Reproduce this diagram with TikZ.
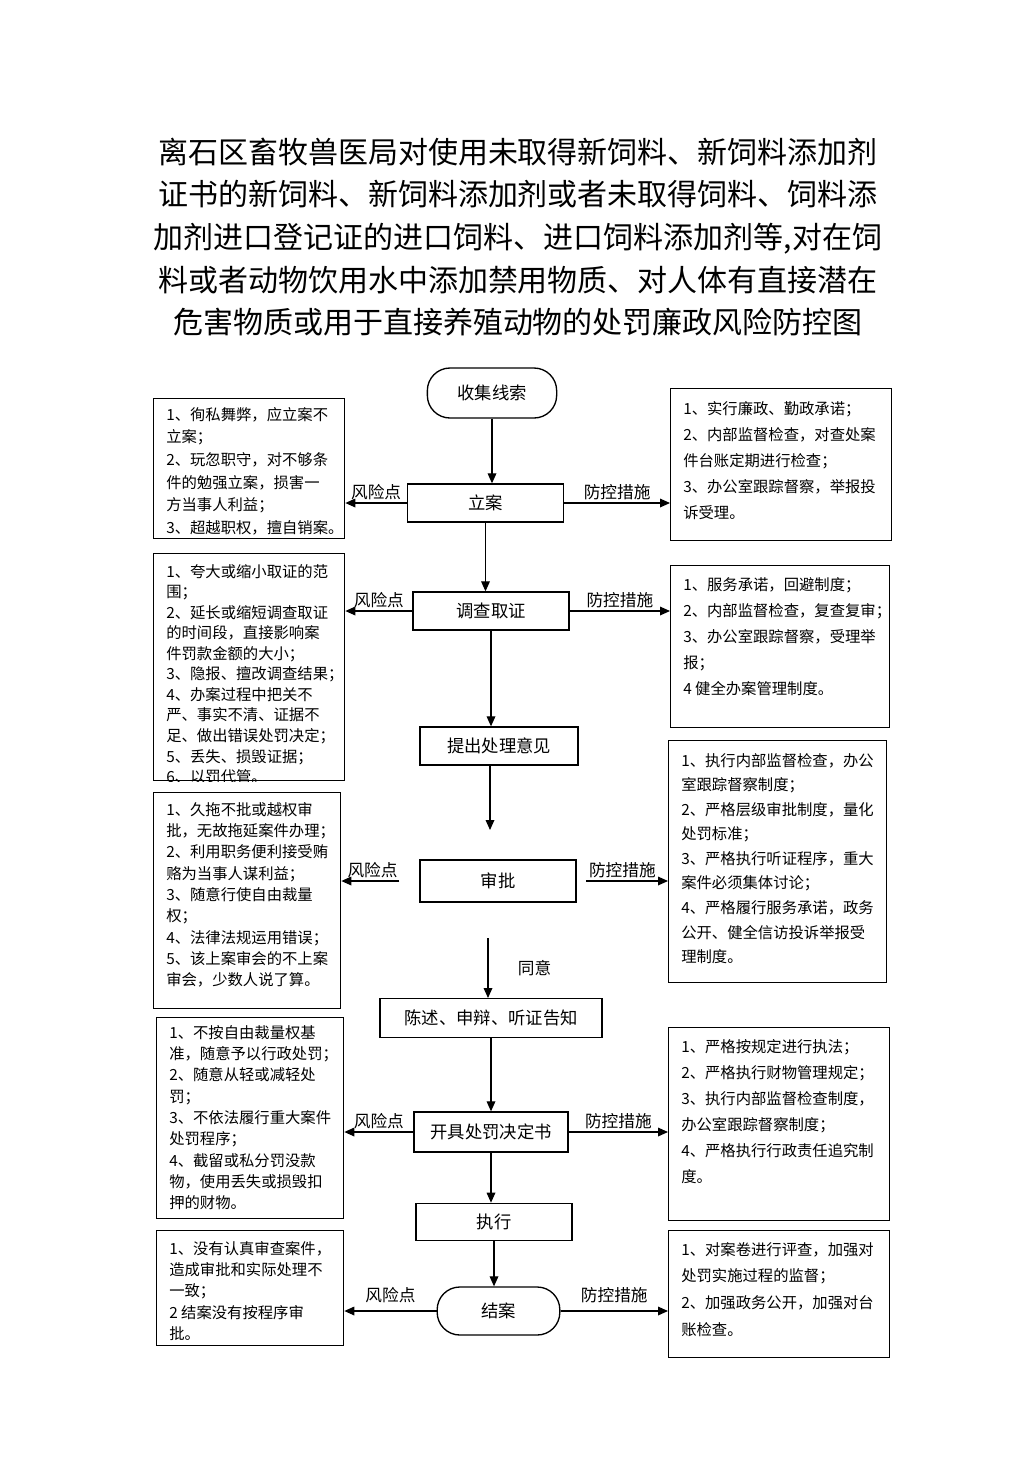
\documentclass[tikz,border=0pt]{standalone}
\usepackage{fontspec}
\setmainfont{Noto Sans CJK SC}
\usetikzlibrary{arrows.meta,positioning,calc}

\begin{document}
\begin{tikzpicture}[x=0.75pt, y=-0.75pt,
    flowstep/.style={rectangle, draw, line width=1pt, minimum width=117pt, minimum height=28.5pt,
                 inner sep=0pt, font=\fontsize{13}{15}\selectfont},
    endstep/.style={flowstep, rounded corners=17pt},
    sidebox/.style={rectangle, draw, line width=1pt, inner sep=0pt, anchor=north west},
    risktext/.style={anchor=north west, align=left, inner sep=0pt, font=\fontsize{11.5}{16}\selectfont},
    ctrltext/.style={anchor=north west, align=left, inner sep=0pt, font=\fontsize{11.5}{19.5}\selectfont},
    lbl/.style={font=\fontsize{12.5}{14}\selectfont, inner sep=2pt},
    arr/.style={-{Triangle[length=7.5pt, width=6.5pt]}, line width=0.9pt}
]
    \useasboundingbox (0,0) rectangle (1033,1461);

    % title
    \node[font=\fontsize{22.5}{32}\selectfont, align=center] (title) at (518,237)
        {离石区畜牧兽医局对使用未取得新饲料、新饲料添加剂\\
         证书的新饲料、新饲料添加剂或者未取得饲料、饲料添\\
         加剂进口登记证的进口饲料、进口饲料添加剂等,对在饲\\
         料或者动物饮用水中添加禁用物质、对人体有直接潜在\\
         危害物质或用于直接养殖动物的处罚廉政风险防控图};

    % main flow
    \node[endstep, minimum width=97pt, minimum height=37.5pt] (shouji) at (492,393) {收集线索};
    \node[flowstep] (lian) at (485.5,503) {立案};
    \node[flowstep] (diaocha) at (491,611) {调查取证};
    \node[flowstep, minimum width=118.5pt] (tichu) at (499,746) {提出处理意见};
    \node[flowstep, minimum height=31.5pt] (shenpi) at (498,881) {审批};
    \node[flowstep, minimum width=166.5pt, minimum height=29pt] (chenshu) at (491,1018) {陈述、申辩、听证告知};
    \node[flowstep, minimum width=115.5pt, minimum height=30pt] (kaiju) at (491,1132) {开具处罚决定书};
    \node[flowstep, minimum height=28pt] (zhixing) at (494,1222) {执行};
    \node[endstep, minimum width=92pt, minimum height=36pt] (jiean) at (498.5,1311) {结案};
    \coordinate (tiend) at (490,830);
    \coordinate (tystart) at (488,938);

    % risk boxes
    \node[sidebox, minimum width=143.25pt, minimum height=105pt] (r1) at (153,398) {};
    \node[sidebox, minimum width=143.25pt, minimum height=170pt] (r2) at (153,553) {};
    \node[sidebox, minimum width=140.25pt, minimum height=162pt] (r3) at (153,792) {};
    \node[sidebox, minimum width=140.25pt, minimum height=150.75pt] (r4) at (156,1017) {};
    \node[sidebox, minimum width=140.25pt, minimum height=86.25pt] (r5) at (156,1230) {};

    % control boxes
    \node[sidebox, minimum width=165.75pt, minimum height=114pt] (c1) at (670,388) {};
    \node[sidebox, minimum width=164.25pt, minimum height=121.5pt] (c2) at (670,565) {};
    \node[sidebox, minimum width=163.5pt, minimum height=181.5pt] (c3) at (668,740) {};
    \node[sidebox, minimum width=165.75pt, minimum height=144.75pt] (c4) at (668,1027) {};
    \node[sidebox, minimum width=165.75pt, minimum height=95.25pt] (c5) at (668,1230) {};

    % box texts
    \node[risktext, font=\fontsize{11.5}{17}\selectfont] (r1t) at ([shift={(13,9)}]r1.north west)
        {1、徇私舞弊，应立案不\\立案；\\2、玩忽职守，对不够条\\件的勉强立案，损害一\\方当事人利益；\\3、超越职权，擅自销案。};
    \begin{scope}
        \clip (r2.north west) rectangle (r2.south east);
        \node[risktext, font=\fontsize{11.5}{15.4}\selectfont] (r2t) at ([shift={(13,11)}]r2.north west)
            {1、夸大或缩小取证的范\\围；\\2、延长或缩短调查取证\\的时间段，直接影响案\\件罚款金额的大小；\\3、隐报、擅改调查结果；\\4、办案过程中把关不\\严、事实不清、证据不\\足、做出错误处罚决定；\\5、丢失、损毁证据；\\6、以罚代管。};
    \end{scope}
    \node[risktext] (r3t) at ([shift={(13,10)}]r3.north west)
        {1、久拖不批或越权审\\批，无故拖延案件办理；\\2、利用职务便利接受贿\\赂为当事人谋利益；\\3、随意行使自由裁量\\权；\\4、法律法规运用错误；\\5、该上案审会的不上案\\审会，少数人说了算。};
    \node[risktext] (r4t) at ([shift={(13,8)}]r4.north west)
        {1、不按自由裁量权基\\准，随意予以行政处罚；\\2、随意从轻或减轻处\\罚；\\3、不依法履行重大案件\\处罚程序；\\4、截留或私分罚没款\\物，使用丢失或损毁扣\\押的财物。};
    \node[risktext] (r5t) at ([shift={(13,11)}]r5.north west)
        {1、没有认真审查案件，\\造成审批和实际处理不\\一致；\\2 结案没有按程序审\\批。};

    \node[ctrltext] (c1t) at ([shift={(13,13)}]c1.north west)
        {1、实行廉政、勤政承诺；\\2、内部监督检查，对查处案\\件台账定期进行检查；\\3、办公室跟踪督察，举报投\\诉受理。};
    \node[ctrltext] (c2t) at ([shift={(13,12)}]c2.north west)
        {1、服务承诺，回避制度；\\2、内部监督检查，复查复审；\\3、办公室跟踪督察，受理举\\报；\\4 健全办案管理制度。};
    \node[ctrltext, font=\fontsize{11.5}{18.4}\selectfont] (c3t) at ([shift={(13,13)}]c3.north west)
        {1、执行内部监督检查，办公\\室跟踪督察制度；\\2、严格层级审批制度，量化\\处罚标准；\\3、严格执行听证程序，重大\\案件必须集体讨论；\\4、严格履行服务承诺，政务\\公开、健全信访投诉举报受\\理制度。};
    \node[ctrltext] (c4t) at ([shift={(13,12)}]c4.north west)
        {1、严格按规定进行执法；\\2、严格执行财物管理规定；\\3、执行内部监督检查制度，\\办公室跟踪督察制度；\\4、严格执行行政责任追究制\\度。};
    \node[ctrltext, font=\fontsize{11.5}{20}\selectfont] (c5t) at ([shift={(13,12)}]c5.north west)
        {1、对案卷进行评查，加强对\\处罚实施过程的监督；\\2、加强政务公开，加强对台\\账检查。};

    % flow arrows
    \draw[arr] (shouji.south) -- (shouji.south |- lian.north);
    \draw[arr] (lian.south) -- (lian.south |- diaocha.north);
    \draw[arr] (diaocha.south) -- (diaocha.south |- tichu.north);
    \draw[arr] (tichu.south -| tiend) -- (tiend);
    \draw[arr] (tystart) -- (tystart |- chenshu.north) node[midway, right=20pt, lbl] {同意};
    \draw[arr] (chenshu.south -| kaiju) -- (kaiju.north);
    \draw[arr] (kaiju.south) -- (kaiju.south |- zhixing.north);
    \draw[arr] (zhixing.south) -- (zhixing.south |- jiean.north);

    % risk / control arrows
    \draw[arr] (lian.west) -- (lian.west -| r1.east) node[midway, above, lbl] {风险点};
    \draw[arr] (lian.east) -- (lian.east -| c1.west) node[midway, above, lbl] {防控措施};
    \draw[arr] (diaocha.west) -- (diaocha.west -| r2.east) node[midway, above, lbl] {风险点};
    \draw[arr] (diaocha.east) -- (diaocha.east -| c2.west) node[midway, above, lbl] {防控措施};
    \draw[arr, shorten <=15pt] (shenpi.west) -- (shenpi.west -| r3.east) node[pos=0.6, above, lbl] {风险点};
    \draw[arr, shorten <=7pt] (shenpi.east) -- (shenpi.east -| c3.west) node[pos=0.5, above, lbl] {防控措施};
    \draw[arr] (kaiju.west) -- (kaiju.west -| r4.east) node[midway, above, lbl] {风险点};
    \draw[arr] (kaiju.east) -- (kaiju.east -| c4.west) node[midway, above, lbl] {防控措施};
    \draw[arr] (jiean.west) -- (jiean.west -| r5.east) node[midway, above=4pt, lbl] {风险点};
    \draw[arr] (jiean.east) -- (jiean.east -| c5.west) node[midway, above=4pt, lbl] {防控措施};
\end{tikzpicture}
\end{document}
